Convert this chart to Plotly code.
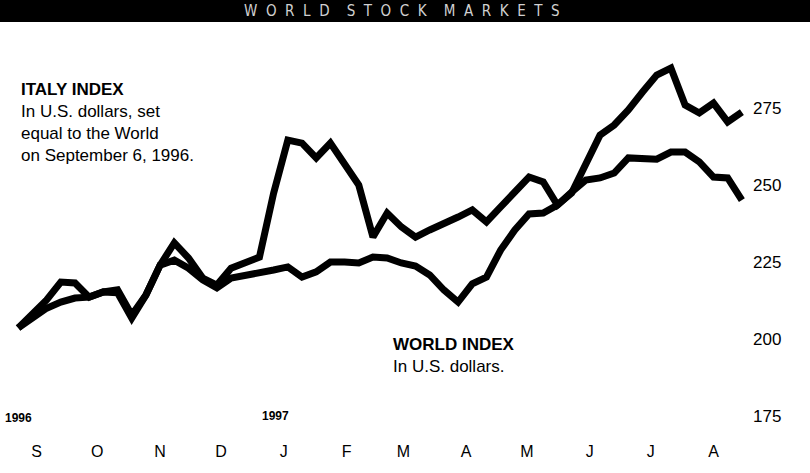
import pandas as pd
import plotly.graph_objects as go

# Weekly observations, Sept. 6, 1996 to late Aug. 1997
dates = pd.date_range("1996-09-06", periods=52, freq="7D")

italy = [203.6, 208.0, 212.7, 218.5, 218.2, 213.6, 215.3, 216.0, 207.8, 214.3,
         224.0, 231.2, 226.3, 219.8, 217.5, 223.0, 225.0, 226.6, 247.4, 264.6,
         263.6, 258.8, 263.6, 256.5, 250.0, 233.1, 240.9, 236.4, 233.1, 235.4,
         237.3, 239.6, 241.9, 238.0, 242.9, 247.4, 252.6, 251.0, 243.5, 247.4,
         256.5, 266.2, 269.5, 274.4, 280.2, 285.7, 288.0, 276.0, 273.4, 276.6,
         270.5, 273.7]

world = [203.6, 207.0, 210.0, 212.0, 213.3, 213.6, 215.3, 215.0, 206.8, 214.3,
         224.0, 225.6, 223.0, 219.2, 216.6, 219.8, 220.5, 221.4, 222.4, 223.4,
         220.1, 221.8, 225.0, 225.0, 224.7, 226.6, 226.3, 224.7, 223.7, 220.8,
         215.9, 212.0, 217.9, 220.1, 228.9, 235.4, 240.6, 240.9, 243.5, 247.7,
         251.6, 252.3, 253.9, 258.8, 258.8, 258.4, 260.7, 260.7, 257.5, 252.6,
         252.3, 245.1]

month_ticks = ["1996-09-15", "1996-10-15", "1996-11-15", "1996-12-15",
               "1997-01-15", "1997-02-15", "1997-03-15", "1997-04-15",
               "1997-05-15", "1997-06-15", "1997-07-15", "1997-08-15"]
month_labels = ["S", "O", "N", "D", "J", "F", "M", "A", "M", "J", "J", "A"]

y_ticks = [175, 200, 225, 250, 275]
y_labels = ["175", "200", "225", "250", "275"]

FONT = "Liberation Sans"

fig = go.Figure()
fig.add_trace(go.Scatter(x=dates, y=world, mode="lines",
                         line=dict(color="black", width=7), name="World index"))
fig.add_trace(go.Scatter(x=dates, y=italy, mode="lines",
                         line=dict(color="black", width=7), name="Italy index"))

fig.update_layout(
    width=810, height=473,
    margin=dict(l=0, r=58, t=40, b=33),
    paper_bgcolor="white", plot_bgcolor="white",
    showlegend=False,
    font=dict(family=FONT, color="black", size=16),
    xaxis=dict(range=["1996-08-28", "1997-09-03"], tickvals=month_ticks,
               ticktext=month_labels, showgrid=False, zeroline=False,
               showline=False, ticks="", tickfont=dict(size=16, family=FONT)),
    yaxis=dict(range=[167.2, 297.1], tickvals=y_ticks, ticktext=y_labels,
               side="right", showgrid=False, zeroline=False, showline=False,
               ticks="", tickfont=dict(size=17, family=FONT)),
)

# Header band
fig.add_shape(type="rect", xref="paper", yref="paper", x0=-0.02, x1=1.1,
              y0=1.045, y1=1.12, fillcolor="black", line=dict(width=0), layer="above")
fig.add_annotation(xref="paper", yref="paper", x=0.535, y=1.073,
                   text="W  O  R  L  D    S  T  O  C  K    M  A  R  K  E  T  S", showarrow=False,
                   font=dict(family="DejaVu Sans Condensed", size=15, color="#d0d0d0"),
                   xanchor="center", yanchor="middle")

# Italy label
fig.add_annotation(xref="paper", yref="paper", x=0.025, y=0.905, xanchor="left", yanchor="top",
                   align="left", showarrow=False,
                   text="<b>ITALY INDEX</b><br>In U.S. dollars, set<br>equal to the World<br>on September 6, 1996.",
                   font=dict(family=FONT, size=17, color="black"))

# World label
fig.add_annotation(xref="paper", yref="paper", x=0.52, y=0.268, xanchor="left", yanchor="top",
                   align="left", showarrow=False,
                   text="<b>WORLD INDEX</b><br>In U.S. dollars.",
                   font=dict(family=FONT, size=17, color="black"))

# Year labels
fig.add_annotation(x="1996-09-06", y=174.5, text="<b>1996</b>", showarrow=False,
                   font=dict(family=FONT, size=12, color="black"), yanchor="middle")
fig.add_annotation(x="1997-01-11", y=175.0, text="<b>1997</b>", showarrow=False,
                   font=dict(family=FONT, size=12, color="black"), yanchor="middle")

fig.write_html("out.html", config={"displayModeBar": False},
               post_script="document.body.style.margin='0';")
